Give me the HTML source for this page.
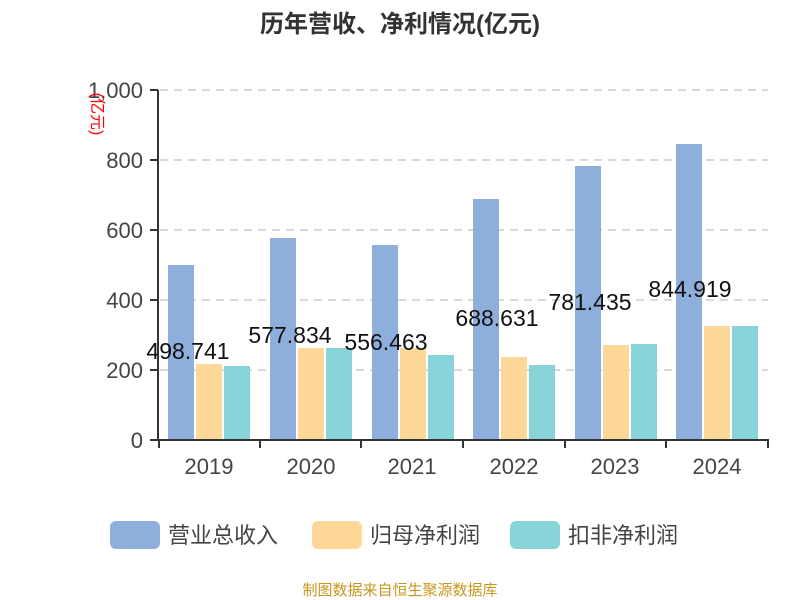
<!DOCTYPE html><html><head><meta charset="utf-8"><style>body{margin:0;background:#fff}svg{display:block}</style></head><body>
<svg width="800" height="600" xmlns="http://www.w3.org/2000/svg" font-family="Liberation Sans, Noto Sans CJK SC, sans-serif">
<text x="400" y="32" text-anchor="middle" font-size="24" font-weight="bold" fill="#333">历年营收、净利情况(亿元)</text>
<g stroke="#ccc" stroke-dasharray="8,6" stroke-width="1.5">
<line x1="160" y1="90" x2="768" y2="90"/><line x1="160" y1="160" x2="768" y2="160"/><line x1="160" y1="230" x2="768" y2="230"/><line x1="160" y1="300" x2="768" y2="300"/><line x1="160" y1="370" x2="768" y2="370"/></g>
<g fill="#444" font-size="22" text-anchor="end">
<text x="143" y="98">1,000</text><text x="143" y="168">800</text><text x="143" y="238">600</text><text x="143" y="308">400</text><text x="143" y="378">200</text><text x="143" y="448">0</text></g>
<text transform="translate(92,114) rotate(90)" text-anchor="middle" font-size="16" fill="#f00">(亿元)</text>
<g>
<rect x="168" y="265" width="26" height="175" fill="#8eaedb"/><rect x="196" y="364" width="26" height="76" fill="#fed899"/><rect x="224" y="366" width="26" height="74" fill="#88d4d9"/>
<rect x="270" y="238" width="26" height="202" fill="#8eaedb"/><rect x="298" y="348" width="26" height="92" fill="#fed899"/><rect x="326" y="348" width="26" height="92" fill="#88d4d9"/>
<rect x="372" y="245" width="26" height="195" fill="#8eaedb"/><rect x="400" y="348" width="26" height="92" fill="#fed899"/><rect x="428" y="355" width="26" height="85" fill="#88d4d9"/>
<rect x="473" y="199" width="26" height="241" fill="#8eaedb"/><rect x="501" y="357" width="26" height="83" fill="#fed899"/><rect x="529" y="365" width="26" height="75" fill="#88d4d9"/>
<rect x="575" y="166" width="26" height="274" fill="#8eaedb"/><rect x="603" y="345" width="26" height="95" fill="#fed899"/><rect x="631" y="344" width="26" height="96" fill="#88d4d9"/>
<rect x="676" y="144" width="26" height="296" fill="#8eaedb"/><rect x="704" y="326" width="26" height="114" fill="#fed899"/><rect x="732" y="326" width="26" height="114" fill="#88d4d9"/>
</g>
<g stroke="#333" stroke-width="2"><line x1="158" y1="90" x2="158" y2="441"/><line x1="150" y1="90" x2="158" y2="90"/><line x1="150" y1="160" x2="158" y2="160"/><line x1="150" y1="230" x2="158" y2="230"/><line x1="150" y1="300" x2="158" y2="300"/><line x1="150" y1="370" x2="158" y2="370"/><line x1="150" y1="440" x2="158" y2="440"/>
<line x1="157" y1="440" x2="769" y2="440"/>
<line x1="159" y1="440" x2="159" y2="448"/><line x1="260" y1="440" x2="260" y2="448"/><line x1="361" y1="440" x2="361" y2="448"/><line x1="463" y1="440" x2="463" y2="448"/><line x1="565" y1="440" x2="565" y2="448"/><line x1="666" y1="440" x2="666" y2="448"/><line x1="768" y1="440" x2="768" y2="448"/></g>
<g fill="#444" font-size="22" text-anchor="middle">
<text x="209" y="474">2019</text><text x="311" y="474">2020</text><text x="412" y="474">2021</text><text x="514" y="474">2022</text><text x="615" y="474">2023</text><text x="717" y="474">2024</text></g>
<g fill="#111" font-size="23" text-anchor="middle">
<text x="188" y="359">498.741</text><text x="290" y="343">577.834</text><text x="386" y="350">556.463</text><text x="497" y="326">688.631</text><text x="590" y="310">781.435</text><text x="690" y="297">844.919</text></g>
<rect x="110" y="521" width="50" height="28" rx="6" fill="#8eaedb"/><text x="168" y="543" font-size="22" fill="#444">营业总收入</text>
<rect x="312" y="521" width="50" height="28" rx="6" fill="#fed899"/><text x="370" y="543" font-size="22" fill="#444">归母净利润</text>
<rect x="510" y="521" width="50" height="28" rx="6" fill="#88d4d9"/><text x="568" y="543" font-size="22" fill="#444">扣非净利润</text>
<text x="400" y="595" text-anchor="middle" font-size="15" fill="#c8961e">制图数据来自恒生聚源数据库</text>
</svg></body></html>
